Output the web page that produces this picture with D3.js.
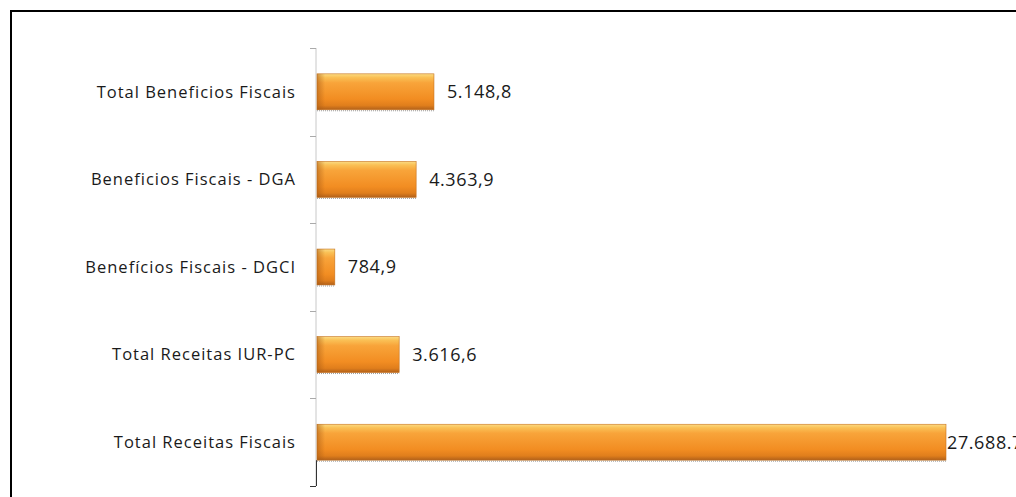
<!DOCTYPE html>
<html>
<head>
<meta charset="utf-8">
<script src="https://cdn.jsdelivr.net/npm/d3@7"></script>
<style>
  body { margin: 0; background: #fff; }
  .chart { width: 1016px; height: 497px; }
</style>
</head>
<body>
<div class="chart"></div>
<script>
// categories top to bottom, values and the labels as printed in the source
const categories = [
  "Total Beneficios Fiscais",
  "Beneficios Fiscais - DGA",
  "Benefícios Fiscais - DGCI",
  "Total Receitas IUR-PC",
  "Total Receitas Fiscais"
];
const values = [5148.8, 4363.9, 784.9, 3616.6, 27688.7];
const valueLabels = ["5.148,8", "4.363,9", "784,9", "3.616,6", "27.688.7"];

const data = categories.map((c, i) => ({ cat: c, value: values[i], label: valueLabels[i] }));

const svgWidth = 1016, svgHeight = 497;
const margin = { top: 48, right: 70, bottom: 11, left: 316 };
const width = svgWidth - margin.left - margin.right;
const height = svgHeight - margin.top - margin.bottom;

const font = "'Open Sans', Lato, sans-serif";

const root = d3.select(".chart").append("svg")
  .attr("width", svgWidth)
  .attr("height", svgHeight);

// bevel-ish orange gradient
const defs = root.append("defs");
const grad = defs.append("linearGradient")
  .attr("id", "barGrad")
  .attr("x1", 0).attr("y1", 0).attr("x2", 0).attr("y2", 1);
[
  [0, "#fbdc84"], [0.1, "#fac055"], [0.25, "#f8a43a"],
  [0.7, "#f28d22"], [0.88, "#e07e1c"], [1, "#b0601a"]
].forEach(([o, c]) => grad.append("stop").attr("offset", o).attr("stop-color", c));

const edge = defs.append("linearGradient")
  .attr("id", "edgeGrad")
  .attr("x1", 0).attr("y1", 0).attr("x2", 1).attr("y2", 0);
edge.append("stop").attr("offset", 0).attr("stop-color", "#a85a14").attr("stop-opacity", 0.55);
edge.append("stop").attr("offset", 1).attr("stop-color", "#a85a14").attr("stop-opacity", 0);

// outer frame
root.append("rect")
  .attr("x", 11).attr("y", 11)
  .attr("width", svgWidth + 20).attr("height", svgHeight + 20)
  .attr("fill", "none")
  .attr("stroke", "#000")
  .attr("stroke-width", 2);

const svg = root.append("g")
  .attr("transform", `translate(${margin.left},${margin.top})`);

const x = d3.scaleLinear()
  .domain([0, 27688.7])
  .range([0, 629]);

const y = d3.scaleBand()
  .domain(categories)
  .range([0, height])
  .paddingInner(0.59)
  .paddingOuter(0.295);

// category axis: light line with small ticks on the band boundaries
const bounds = d3.range(categories.length + 1).map(i => i * height / categories.length);
svg.append("line")
  .attr("x1", 0).attr("x2", 0)
  .attr("y1", 0).attr("y2", height)
  .attr("stroke", "#c8c8c8")
  .attr("stroke-width", 1);
svg.selectAll(".tick")
  .data(bounds)
  .enter().append("line")
  .attr("class", "tick")
  .attr("x1", -6).attr("x2", 0)
  .attr("y1", d => Math.round(d) + 0.5)
  .attr("y2", d => Math.round(d) + 0.5)
  .attr("stroke", (d, i) => i === bounds.length - 1 ? "#333" : "#aaa");
svg.append("line")
  .attr("x1", 0.5).attr("x2", 0.5)
  .attr("y1", y(categories[categories.length - 1]) + y.bandwidth())
  .attr("y2", height)
  .attr("stroke", "#333");

svg.selectAll(".cat")
  .data(data)
  .enter().append("text")
  .attr("class", "cat")
  .attr("x", -20)
  .attr("y", d => y(d.cat) + y.bandwidth() / 2)
  .attr("dy", "0.35em")
  .attr("text-anchor", "end")
  .attr("font-family", font)
  .attr("font-size", 16.5)
  .attr("letter-spacing", 1)
  .attr("fill", "#1a1a1a")
  .text(d => d.cat);

// bars
svg.selectAll(".bar")
  .data(data)
  .enter().append("rect")
  .attr("class", "bar")
  .attr("x", 1)
  .attr("y", d => y(d.cat))
  .attr("width", d => x(d.value))
  .attr("height", y.bandwidth())
  .attr("fill", "url(#barGrad)")
  .attr("stroke", "#c7711c")
  .attr("stroke-width", 0.6);

svg.selectAll(".bar-edge")
  .data(data)
  .enter().append("rect")
  .attr("class", "bar-edge")
  .attr("x", 1)
  .attr("y", d => y(d.cat))
  .attr("width", d => Math.min(8, x(d.value)))
  .attr("height", y.bandwidth())
  .attr("fill", "url(#edgeGrad)");

// bottom shadow line under the bars
svg.selectAll(".bar-shadow")
  .data(data)
  .enter().append("line")
  .attr("class", "bar-shadow")
  .attr("x1", 1)
  .attr("x2", d => x(d.value) + 1)
  .attr("y1", d => y(d.cat) + y.bandwidth() + 1)
  .attr("y2", d => y(d.cat) + y.bandwidth() + 1)
  .attr("stroke", "#9a9a9a")
  .attr("stroke-dasharray", "1,1");

// value labels; the largest one sits tight against its bar end, as in the source
const maxVal = d3.max(values);
svg.selectAll(".val")
  .data(data)
  .enter().append("text")
  .attr("class", "val")
  .attr("x", d => x(d.value) + (d.value === maxVal ? 2 : 14))
  .attr("y", d => y(d.cat) + y.bandwidth() / 2)
  .attr("dy", "0.35em")
  .attr("font-family", font)
  .attr("font-size", 18)
  .attr("letter-spacing", 0.6)
  .attr("fill", "#1a1a1a")
  .text(d => d.label);
</script>
</body>
</html>
